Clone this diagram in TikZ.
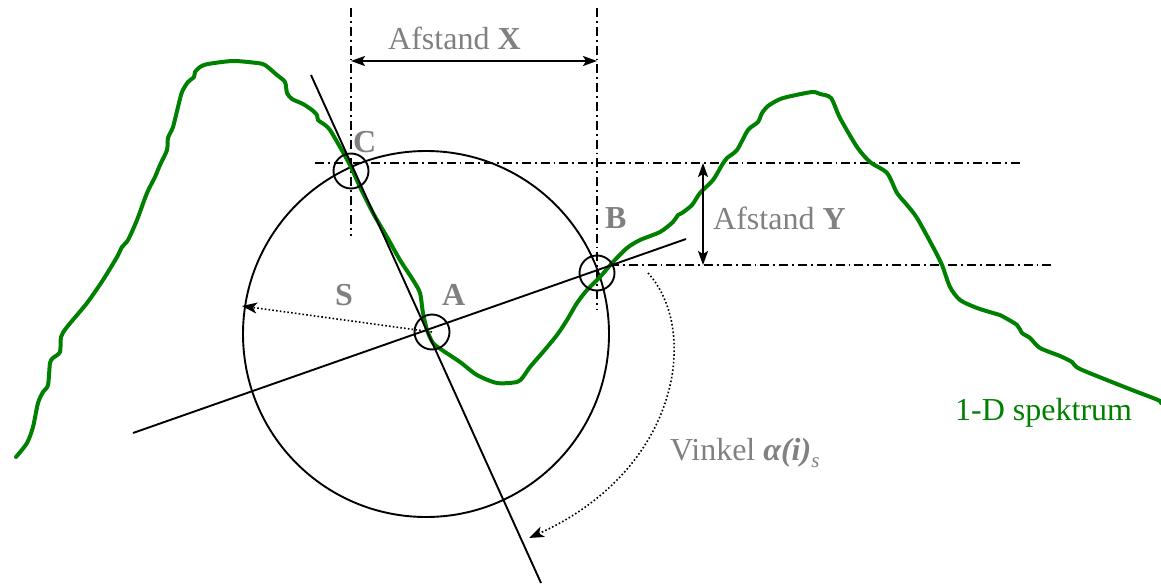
\documentclass[tikz,border=0pt]{standalone}
\usepackage{fontspec}
\setmainfont{Liberation Serif}
\usetikzlibrary{arrows.meta}
\definecolor{spec}{RGB}{0,128,0}
\definecolor{lbl}{RGB}{128,128,128}
\tikzset{
  txt/.style={font=\fontsize{32}{38}\selectfont, text=lbl, inner sep=0pt, anchor=base west},
  blbl/.style={txt, font=\fontsize{32}{38}\selectfont\bfseries},
  thin line/.style={line width=1.9pt, black},
  dashdot/.style={line width=1.9pt, dash pattern=on 9pt off 4pt on 1.8pt off 4pt},
  ring/.style={circle, draw, line width=1.9pt, minimum size=35pt, inner sep=0pt},
  dimarrow/.style={line width=1.9pt, {Stealth[length=14pt,width=10pt,inset=3pt]}-{Stealth[length=14pt,width=10pt,inset=3pt]}},
  dotarrow/.style={line width=1.6pt, dash pattern=on 1.6pt off 2.2pt, -{Stealth[length=15pt,width=11pt,inset=4pt]}},
  spectrum/.style={line width=4pt, spec, line join=round, line cap=round}
}
\begin{document}
\begin{tikzpicture}[x=1pt,y=-1pt]
\useasboundingbox (0,0) rectangle (1161,586);
% key points
\coordinate (O) at (426,334);
\coordinate (A) at (432,332);
\coordinate (B) at (597,273);
\coordinate (C) at (351,171);
% line ends
\coordinate (l1a) at (311,75);
\coordinate (l1b) at (541,583);
\coordinate (l2a) at (133,433);
\coordinate (l2b) at (686,239);
\coordinate (vCt) at (351,8);
\coordinate (vCb) at (351,236);
\coordinate (vBt) at (597,8);
\coordinate (vBb) at (597,310);
\coordinate (hCl) at (315,163);
\coordinate (hCr) at (1022,163);
\coordinate (hBl) at (610,265);
\coordinate (hBr) at (1053,265);
\coordinate (xL) at (351,61);
\coordinate (xR) at (597,61);
\coordinate (yT) at (703,163);
\coordinate (yB) at (703,265);
\coordinate (sEnd) at (242,306);
\coordinate (vStart) at (648,273);
\coordinate (vEnd) at (529,538);

% big circle
\draw[thin line] (O) circle (183);

% dash-dot guides
\draw[dashdot] (vCt) -- (vCb);
\draw[dashdot] (vBt) -- (vBb);
\draw[dashdot] (hCl) -- (hCr);
\draw[dashdot] (hBl) -- (hBr);

% spectrum
\draw[spectrum] plot[smooth, tension=0.45] coordinates {
(16,457) (27,443) (33,427) (38,403) (43,392) (48,385) (50,363) (53,358) (60,352)
(61,337) (67,327) (87,303) (103,280) (117,257) (122,247) (128,240) (137,220)
(147,193) (155,177) (160,165) (167,150) (168,138) (173,127) (178,107) (182,92)
(188,82) (194,77) (195,72) (200,67) (208,64) (233,61) (257,63) (265,65) (277,75)
(285,82) (287,93) (292,99) (303,104) (312,110) (317,115) (318,120) (325,125)
(330,130) (340,147) (350,165) (360,187) (373,213) (387,237) (400,260) (413,280)
(420,293) (423,313) (427,330) (433,343) (442,350) (460,362) (477,375) (497,383)
(517,382) (523,377) (530,367) (543,352) (557,335) (567,320) (577,303) (587,290)
(600,277) (613,262) (627,248) (640,240) (660,232) (673,222) (678,215) (682,213)
(692,205) (700,193) (713,180) (722,165) (727,158) (737,150) (748,130) (758,122)
(762,113) (768,106) (778,100) (787,97) (812,92) (820,94) (831,98) (840,118)
(857,147) (870,162) (887,173) (897,193) (907,205) (917,218) (933,247) (942,265)
(950,287) (960,300) (977,308) (993,313) (1000,315) (1017,325) (1022,333)
(1030,338) (1040,348) (1060,356) (1072,362) (1080,369) (1127,388) (1158,400) (1161,403)};

% straight lines
\draw[thin line] (l1a) -- (l1b);
\draw[thin line] (l2a) -- (l2b);

% rings
\node[ring] (rA) at (A) {};
\node[ring] (rB) at (B) {};
\node[ring] (rC) at (C) {};

% dimension arrows
\draw[dimarrow] (xL) -- (xR);
\draw[dimarrow] (yT) -- (yB);

% radius arrow S
\draw[dotarrow] (A) -- (sEnd);

% angle arrow
\draw[dotarrow] (vStart) .. controls (700,330) and (680,470) .. (vEnd);

% labels
\node[txt] (tX) at (388,50) {Afstand \textbf{X}};
\node[txt] (tY) at (713,229) {Afstand \textbf{Y}};
\node[blbl] (tC) at (353,152) {C};
\node[blbl] (tB) at (605,228) {B};
\node[blbl] (tA) at (442,305) {A};
\node[blbl] (tS) at (335,305) {S};
\node[txt] (tV) at (670,460) {Vinkel \textbf{\textit{α(i)}}\raisebox{-7pt}{\fontsize{21}{21}\selectfont\itshape s}};
\node[txt, text=spec] (tD) at (955,420) {1-D spektrum};
\end{tikzpicture}
\end{document}
